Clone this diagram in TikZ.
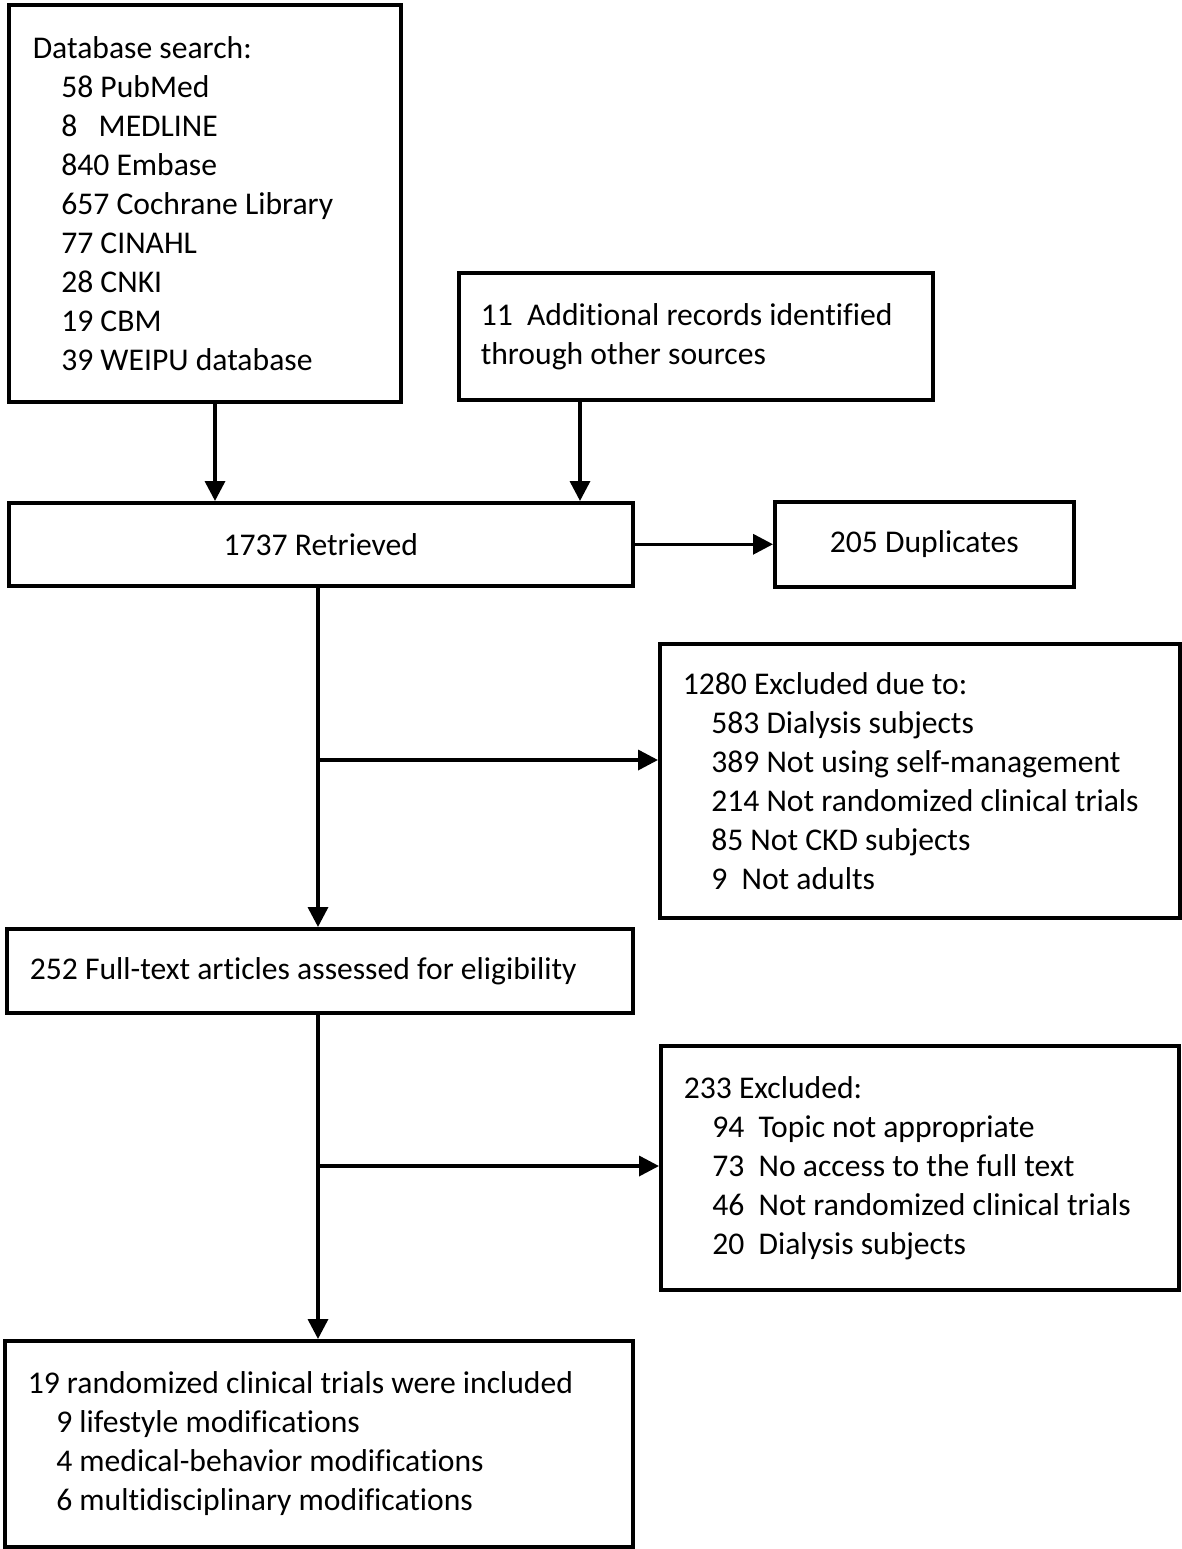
\documentclass[tikz,border=0pt]{standalone}
\usepackage{fontspec}
\setmainfont[Ligatures=NoCommon]{Carlito}
\usetikzlibrary{arrows.meta}
\tikzset{
    flowbox/.style={draw,line width=2pt,anchor=north west,align=flush left,inner ysep=0pt,
        font=\fontsize{18}{22.2}\selectfont},
    flowarrow/.style={line width=2pt,-{Triangle[length=0.4cm,width=0.4cm]}},
}
\newcommand{\sub}[1]{\hspace*{0.57cm}\mbox{#1}}
\begin{document}
\begin{tikzpicture}[x=0.02cm,y=-0.02cm]
    \useasboundingbox (0,0) rectangle (1181,1549);
    % boxes (pixel grid)
    \node[flowbox,inner xsep=24*0.02cm,text width=344*0.02cm,minimum height=397*0.02cm] (db) at (7,3)
        {Database search:\\ \sub{58 PubMed}\\ \sub{8\ \ \ MEDLINE}\\ \sub{840 Embase}\\ \sub{657 Cochrane Library}\\
         \sub{77 CINAHL}\\ \sub{28 CNKI}\\ \sub{19 CBM}\\ \sub{39 WEIPU database}};
    \node[flowbox,inner xsep=22*0.02cm,text width=430*0.02cm,minimum height=127*0.02cm] (add) at (457,271)
        {\mbox{11\ \ Additional records identified}\\ through other sources};
    \node[flowbox,minimum width=624*0.02cm,minimum height=83*0.02cm] (ret) at (7,501) {1737 Retrieved};
    \node[flowbox,minimum width=299*0.02cm,minimum height=85*0.02cm] (dup) at (773,500) {205 Duplicates};
    \node[flowbox,inner xsep=23*0.02cm,text width=474*0.02cm,minimum height=274*0.02cm] (exc1) at (658,642)
        {1280 Excluded due to:\\ \sub{583 Dialysis subjects}\\ \sub{389 Not using self-management}\\
         \sub{214 Not randomized clinical trials}\\ \sub{85 Not CKD subjects}\\ \sub{9\ \ Not adults}};
    \node[flowbox,inner xsep=23*0.02cm,text width=580*0.02cm,minimum height=84*0.02cm] (full) at (5,927)
        {252 Full-text articles assessed for eligibility};
    \node[flowbox,inner xsep=23*0.02cm,text width=472*0.02cm,minimum height=244*0.02cm] (exc2) at (659,1044)
        {233 Excluded:\\ \sub{94\ \ Topic not appropriate}\\ \sub{73\ \ No access to the full text}\\
         \sub{46\ \ Not randomized clinical trials}\\ \sub{20\ \ Dialysis subjects}};
    \node[flowbox,inner xsep=23*0.02cm,text width=582*0.02cm,minimum height=206*0.02cm] (inc) at (3,1339)
        {19 randomized clinical trials were included\\ \sub{9 lifestyle modifications}\\
         \sub{4 medical-behavior modifications}\\ \sub{6 multidisciplinary modifications}};
    % arrows
    \coordinate (dbx) at (215,0);
    \coordinate (addx) at (580,0);
    \coordinate (trunk) at (318,0);
    \coordinate (split1) at (318,760);
    \coordinate (split2) at (318,1166);
    \draw[flowarrow] (db.south -| dbx) -- (ret.north -| dbx);
    \draw[flowarrow] (add.south -| addx) -- (ret.north -| addx);
    \draw[flowarrow] (ret.east) -- (dup.west);
    \draw[flowarrow] (ret.south -| trunk) -- (full.north -| trunk);
    \draw[flowarrow] (split1) -- (split1 -| exc1.west);
    \draw[flowarrow] (full.south -| trunk) -- (inc.north -| trunk);
    \draw[flowarrow] (split2) -- (split2 -| exc2.west);
\end{tikzpicture}
\end{document}
